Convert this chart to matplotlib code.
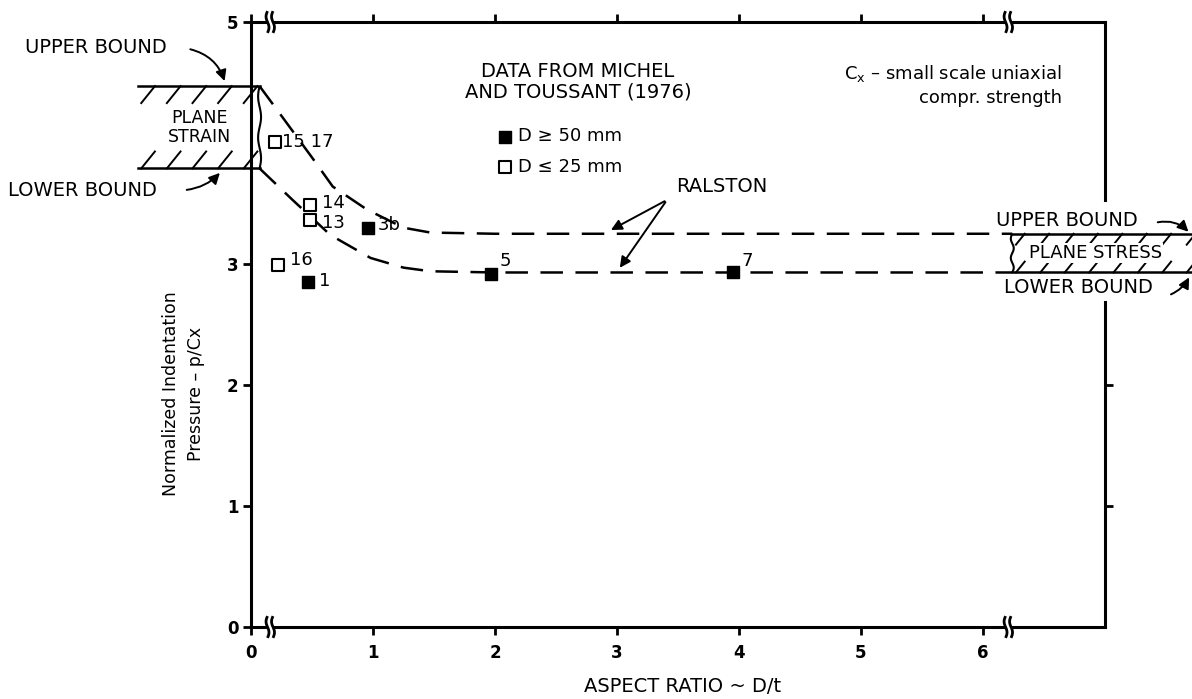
import numpy as np
from matplotlib import pyplot as plt

# values
# Michel & Toussant (1976), D >= 50 mm (filled)
big_x = [0.47, 0.96, 1.97, 3.95]
big_y = [2.85, 3.30, 2.92, 2.93]
big_lab = ['1', '3b', '5', '7']

# D <= 25 mm (open)
small_x = [0.20, 0.48, 0.48, 0.22]
small_y = [4.01, 3.49, 3.36, 2.99]
small_lab = ['15 17', '14', '13', '16']

# Ralston upper / lower curves
up_x = [0.07, 0.26, 0.50, 0.67, 0.95, 1.25, 1.47, 2.0, 3.0, 4.0, 5.0, 6.24]
up_y = [4.47, 4.21, 3.88, 3.64, 3.45, 3.30, 3.26, 3.25, 3.25, 3.25, 3.25, 3.25]
lo_x = [0.07, 0.34, 0.65, 0.98, 1.25, 1.47, 2.0, 3.0, 4.0, 5.0, 6.24]
lo_y = [3.79, 3.53, 3.24, 3.05, 2.97, 2.94, 2.93, 2.93, 2.93, 2.93, 2.93]

# plane strain / plane stress bounds
strain_bounds = [3.79, 4.47]
stress_bounds = [2.93, 3.25]

x_ticks = [0, 1, 2, 3, 4, 5, 6]
y_ticks = [0, 1, 2, 3, 5]   # the 4 is hidden behind the plane strain box

plt.rcParams['font.family'] = 'DejaVu Sans'

fig = plt.figure(figsize=(11.92, 6.99), dpi=100)
ax = fig.add_axes([0.2106, 0.103, 0.7164, 0.8655])
ax.set_xlim(0, 7)
ax.set_ylim(0, 5)

K = 'black'
LW = 2.2

# frame: left spine kept, the rest drawn by hand with breaks
for s in ['top', 'bottom', 'right']:
    ax.spines[s].set_visible(False)
ax.spines['left'].set_linewidth(LW)


def wavy(xc, y0, y1, amp=0.012, n=1.0, lw=2.0):
    t = np.linspace(0, 1, 50)
    ax.plot(xc + amp*np.sin(2*np.pi*n*t), y0 + (y1 - y0)*t, color=K, lw=lw,
            clip_on=False, solid_capstyle='butt')


def hline_broken(y, xb1, xb2):
    ax.plot([0, xb1 - 0.03], [y, y], color=K, lw=LW, clip_on=False)
    ax.plot([xb1 + 0.05, xb2 - 0.03], [y, y], color=K, lw=LW, clip_on=False)
    ax.plot([xb2 + 0.05, 7], [y, y], color=K, lw=LW, clip_on=False)
    for xb in (xb1, xb2):
        wavy(xb - 0.015, y - 0.09, y + 0.09)
        wavy(xb + 0.03, y - 0.09, y + 0.09)


hline_broken(0, 0.15, 6.2)
hline_broken(5, 0.15, 6.2)
ax.plot([7, 7], [0, 2.69], color=K, lw=LW, clip_on=False)
ax.plot([7, 7], [3.53, 5], color=K, lw=LW, clip_on=False)

ax.set_xticks(x_ticks)
ax.set_yticks(y_ticks)
ax.tick_params(axis='x', top=True, direction='out', length=6, width=2,
               labelsize=12, pad=6)
ax.tick_params(axis='y', direction='out', length=6, width=2, labelsize=12, pad=3)
for lab in ax.get_xticklabels() + ax.get_yticklabels():
    lab.set_fontweight('bold')
sec = ax.secondary_yaxis('right')
sec.set_yticks([1, 2])
sec.set_yticklabels([])
sec.spines['right'].set_visible(False)
sec.tick_params(direction='out', length=6, width=2)

ax.set_xlabel('ASPECT RATIO ~ D/t', fontsize=14)
ax.xaxis.set_label_coords(0.505, -0.083)
ax.set_ylabel('Normalized Indentation\nPressure – p/Cx', fontsize=12.5,
              linespacing=1.5)
ax.yaxis.set_label_coords(-0.054, 0.385)

# Ralston curves
ax.plot(up_x, up_y, color=K, lw=1.8, dashes=(9, 5))
ax.plot(lo_x, lo_y, color=K, lw=1.8, dashes=(9, 5))

# data points
hb = ax.scatter(big_x, big_y, marker='s', s=80, color=K, zorder=5)
hs = ax.scatter(small_x, small_y, marker='s', s=80, facecolor='white',
                edgecolor=K, linewidth=1.5, zorder=5)
big_off = [(8, 1), (7, 2), (6, 9), (6, 8)]
small_off = [(5, 0), (9, 1), (9, -2), (9, 4)]
for x, y, t, o in zip(big_x, big_y, big_lab, big_off):
    ax.annotate(t, (x, y), xytext=o, textcoords='offset points',
                ha='left', va='center', fontsize=13)
for x, y, t, o in zip(small_x, small_y, small_lab, small_off):
    ax.annotate(t, (x, y), xytext=o, textcoords='offset points',
                ha='left', va='center', fontsize=13)

ax.legend([hb, hs], ['D ≥ 50 mm', 'D ≤ 25 mm'], loc='upper left',
          bbox_to_anchor=(2.04, 4.13), bbox_transform=ax.transData,
          frameon=False, fontsize=13, handlelength=0.6, handletextpad=0.4,
          labelspacing=0.7, borderpad=0, borderaxespad=0)


def hatch_box(x0, x1, y0, y1, band, step):
    ax.plot([x0, x1], [y1, y1], color=K, lw=1.8, clip_on=False)
    ax.plot([x0, x1], [y0, y0], color=K, lw=1.8, clip_on=False)
    wavy(x0 if x1 > 7 else x1, y0, y1, amp=0.012, n=2, lw=1.5)
    for xs in np.arange(x0 + 0.03, x1 - 0.05, step):
        for yb in (y1 - band, y0):
            ax.plot([xs, xs + band*0.8], [yb, yb + band], color=K, lw=1.4,
                    clip_on=False)


# plane strain box
hatch_box(-0.93, 0.07, strain_bounds[0], strain_bounds[1], 0.14, 0.21)
ax.text(-0.42, sum(strain_bounds)/2, 'PLANE\nSTRAIN', ha='center', va='center',
        fontsize=12.5, linespacing=1.05,
        bbox=dict(facecolor='white', edgecolor='none', pad=0))
# plane stress box
hatch_box(6.24, 8.0, stress_bounds[0], stress_bounds[1], 0.09, 0.2)
ax.text(6.38, sum(stress_bounds)/2, 'PLANE STRESS', ha='left', va='center',
        fontsize=13, bbox=dict(facecolor='white', edgecolor='none', pad=0.5))

arrow = dict(arrowstyle='-|>', color=K, lw=1.4, mutation_scale=16)

ax.text(-1.85, 4.79, 'UPPER BOUND', ha='left', va='center', fontsize=14)
ax.annotate('', xy=(-0.21, strain_bounds[1] + 0.02), xytext=(-0.52, 4.78),
            annotation_clip=False,
            arrowprops=dict(arrow, connectionstyle='arc3,rad=-0.3'))
ax.text(-1.99, 3.61, 'LOWER BOUND', ha='left', va='center', fontsize=14)
ax.annotate('', xy=(-0.24, strain_bounds[0] - 0.02), xytext=(-0.55, 3.61),
            annotation_clip=False,
            arrowprops=dict(arrow, connectionstyle='arc3,rad=0.2'))

ax.text(6.69, 3.36, 'UPPER BOUND', ha='center', va='center', fontsize=14)
ax.annotate('', xy=(7.70, stress_bounds[1]), xytext=(7.41, 3.34),
            annotation_clip=False,
            arrowprops=dict(arrow, connectionstyle='arc3,rad=-0.3'))
ax.text(6.78, 2.81, 'LOWER BOUND', ha='center', va='center', fontsize=14)
ax.annotate('', xy=(7.70, stress_bounds[0] - 0.02), xytext=(7.52, 2.74),
            annotation_clip=False,
            arrowprops=dict(arrow, connectionstyle='arc3,rad=0.2'))

ax.text(3.86, 3.64, 'RALSTON', ha='center', va='center', fontsize=14)
ax.annotate('', xy=(2.93, 3.27), xytext=(3.41, 3.53), arrowprops=arrow)
ax.annotate('', xy=(3.01, 2.95), xytext=(3.41, 3.53), arrowprops=arrow)

ax.text(2.68, 4.51, 'DATA FROM MICHEL\nAND TOUSSANT (1976)', ha='center',
        va='center', fontsize=14, linespacing=1.1)
ax.text(6.65, 4.48, 'C$_{\\mathrm{x}}$ – small scale uniaxial\ncompr. strength',
        ha='right', va='center', fontsize=13, linespacing=1.3)

fig.savefig('out.png', dpi=100)
